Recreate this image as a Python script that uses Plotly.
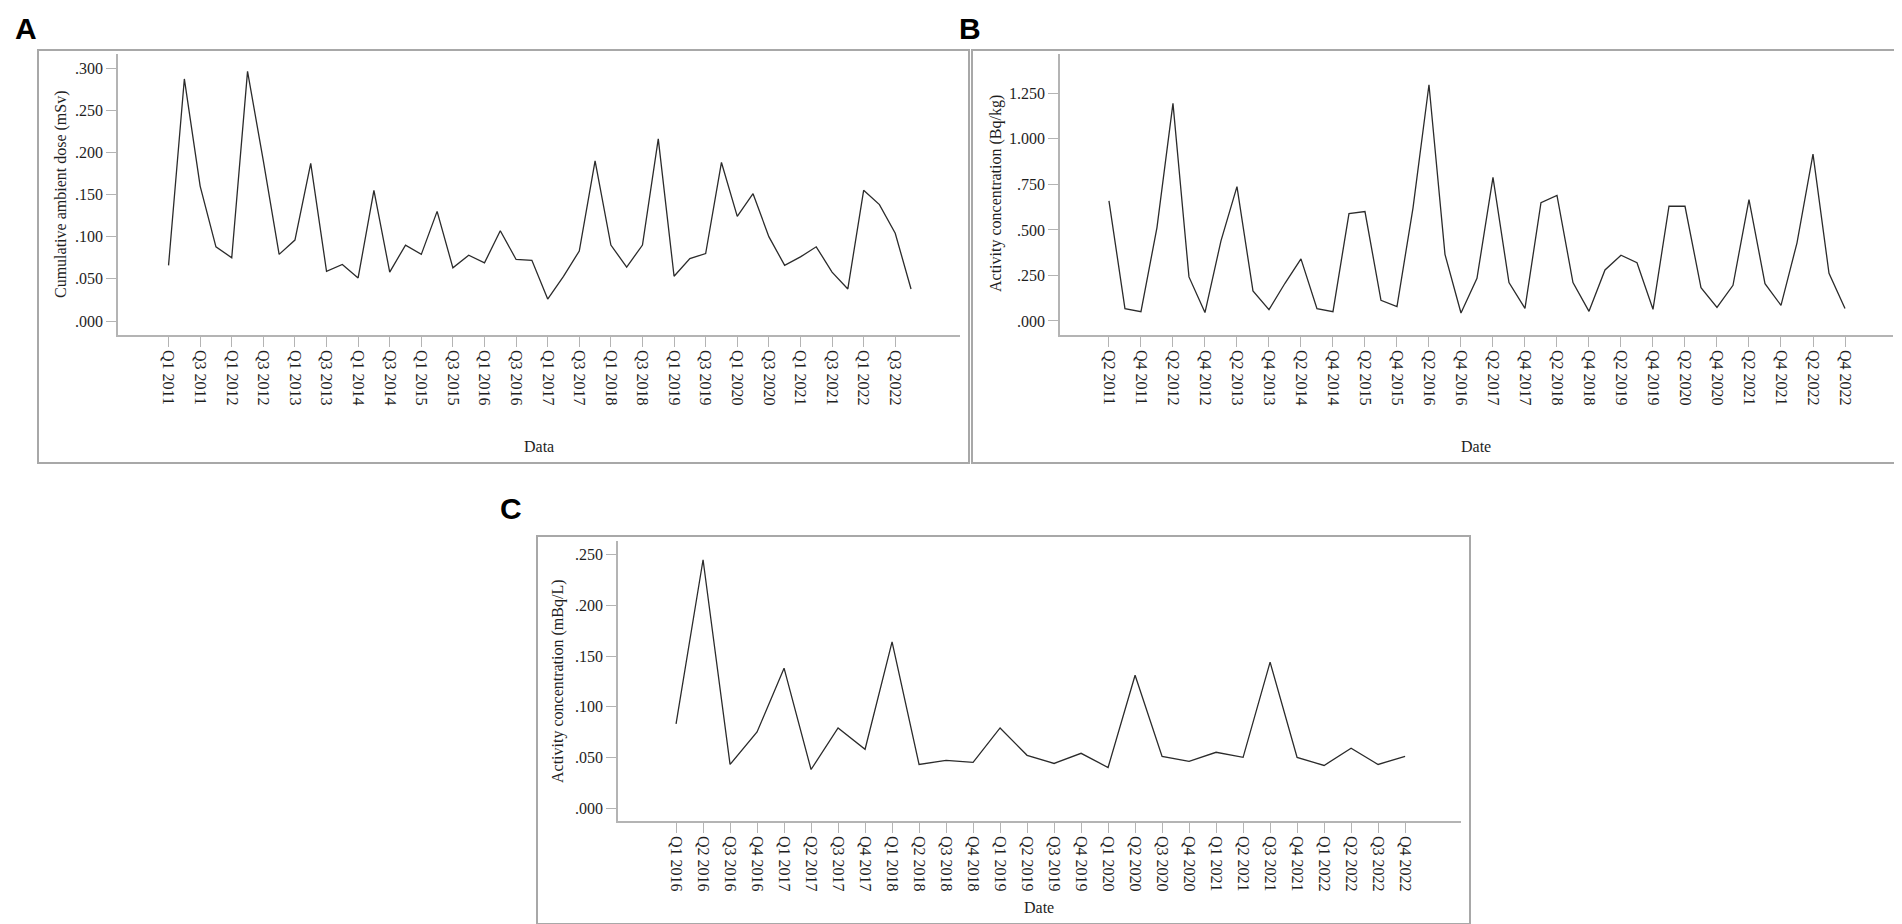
import plotly.graph_objects as go

W, H = 1902, 924

# quarter labels
quarters_a = [f"Q{q} {y}" for y in range(2011, 2023) for q in range(1, 5)]
quarters_b = quarters_a[1:]
quarters_c = [f"Q{q} {y}" for y in range(2016, 2023) for q in range(1, 5)]

# A: cumulative ambient dose (mSv)
dose_a = [0.066, 0.287, 0.160, 0.088, 0.075, 0.296, 0.190, 0.079,
          0.096, 0.187, 0.059, 0.067, 0.051, 0.155, 0.058, 0.090,
          0.079, 0.130, 0.063, 0.078, 0.069, 0.107, 0.073, 0.072,
          0.026, 0.053, 0.083, 0.190, 0.090, 0.064, 0.090, 0.216,
          0.053, 0.074, 0.080, 0.188, 0.124, 0.151, 0.100, 0.066,
          0.076, 0.088, 0.058, 0.038, 0.155, 0.138, 0.104, 0.038]

# B: activity concentration (Bq/kg)
conc_b = [0.660, 0.068, 0.051, 0.513, 1.195, 0.242, 0.046, 0.440,
          0.738, 0.165, 0.062, 0.207, 0.341, 0.068, 0.051, 0.590,
          0.601, 0.113, 0.079, 0.620, 1.297, 0.366, 0.044, 0.234,
          0.788, 0.211, 0.069, 0.650, 0.690, 0.211, 0.053, 0.280,
          0.361, 0.320, 0.064, 0.630, 0.630, 0.183, 0.075, 0.196,
          0.667, 0.205, 0.086, 0.429, 0.916, 0.262, 0.069]

# C: activity concentration (mBq/L)
conc_c = [0.083, 0.245, 0.043, 0.075, 0.138, 0.038, 0.079, 0.058,
          0.164, 0.043, 0.047, 0.045, 0.079, 0.052, 0.044, 0.054,
          0.040, 0.131, 0.051, 0.046, 0.055, 0.050, 0.144, 0.050,
          0.042, 0.059, 0.043, 0.051]

yticks_a = [0, 0.05, 0.10, 0.15, 0.20, 0.25, 0.30]
ylabels_a = [".000", ".050", ".100", ".150", ".200", ".250", ".300"]
yticks_b = [0, 0.25, 0.5, 0.75, 1.0, 1.25]
ylabels_b = [".000", ".250", ".500", ".750", "1.000", "1.250"]
yticks_c = [0, 0.05, 0.10, 0.15, 0.20, 0.25]
ylabels_c = [".000", ".050", ".100", ".150", ".200", ".250"]

FONT = "Liberation Serif"
TXT = "#1e1e1e"
AX_GRAY = "#b4b4b4"
BOX_GRAY = "#a8a8a8"


def px(v):
    return v / W


def py(v):
    return 1 - v / H


fig = go.Figure()

for xs, ys, xa, ya in [(quarters_a, dose_a, "x", "y"),
                       (quarters_b, conc_b, "x2", "y2"),
                       (quarters_c, conc_c, "x3", "y3")]:
    fig.add_trace(go.Scatter(x=xs, y=ys, mode="lines",
                             line=dict(color="#2b2b2b", width=1.3),
                             xaxis=xa, yaxis=ya, hoverinfo="x+y"))

common_x = dict(type="category", showgrid=False, zeroline=False, showline=True,
                linecolor=AX_GRAY, linewidth=1.5, ticks="outside", ticklen=10,
                tickcolor=AX_GRAY, tickwidth=1.2, tickangle=90,
                tickfont=dict(family=FONT, size=16, color=TXT))
common_y = dict(showgrid=False, zeroline=False, showline=True,
                linecolor=AX_GRAY, linewidth=1.5, ticks="outside", ticklen=10,
                tickcolor=AX_GRAY, tickwidth=1.2,
                tickfont=dict(family=FONT, size=16, color=TXT))

fig.update_layout(
    xaxis=dict(common_x, domain=[px(110), px(952)], range=[-3.2, 50.1],
               tickvals=quarters_a[::2], anchor="y"),
    yaxis=dict(common_y, domain=[py(327), py(46)], range=[-0.0166, 0.3166],
               tickvals=yticks_a, ticktext=ylabels_a, anchor="x"),
    xaxis2=dict(common_x, domain=[px(1052), px(1885)], range=[-3.06, 49.0],
                tickvals=quarters_b[::2], anchor="y2"),
    yaxis2=dict(common_y, domain=[py(327), py(46)], range=[-0.077, 1.466],
                tickvals=yticks_b, ticktext=ylabels_b, anchor="x2"),
    xaxis3=dict(common_x, domain=[px(610), px(1453)], range=[-2.15, 29.07],
                tickvals=quarters_c, anchor="y3"),
    yaxis3=dict(common_y, domain=[py(813), py(532.7)], range=[-0.0128, 0.2638],
                tickvals=yticks_c, ticktext=ylabels_c, anchor="x3"),
)

# panel frames
frames = [(30, 42, 961, 455), (964, 42, 1895, 455), (529, 528, 1462, 916)]
for x0, y0, x1, y1 in frames:
    fig.add_shape(type="rect", xref="paper", yref="paper",
                  x0=px(x0), x1=px(x1), y0=py(y1), y1=py(y0),
                  line=dict(color=BOX_GRAY, width=2), fillcolor="rgba(0,0,0,0)")

# panel letters
for letter, x, y in [("A", 18, 21), ("B", 962, 21), ("C", 503, 500)]:
    fig.add_annotation(x=px(x), y=py(y), xref="paper", yref="paper",
                       xanchor="center", yanchor="middle",
                       text=f"<b>{letter}</b>", showarrow=False,
                       font=dict(family="Liberation Sans", size=30, color="black"))

# axis titles
titles = [
    ("Cumulative ambient dose (mSv)", 53, 186, -90),
    ("Activity concentration (Bq/kg)", 988, 186, -90),
    ("Activity concentration (mBq/L)", 550, 673, -90),
    ("Data", 531, 438, 0),
    ("Date", 1468, 438, 0),
    ("Date", 1031, 899, 0),
]
for text, x, y, ang in titles:
    fig.add_annotation(x=px(x), y=py(y), xref="paper", yref="paper",
                       xanchor="center", yanchor="middle",
                       text=text, showarrow=False, textangle=ang,
                       font=dict(family=FONT, size=16, color=TXT))

fig.update_layout(
    width=W, height=H,
    margin=dict(l=0, r=0, t=0, b=0),
    showlegend=False,
    plot_bgcolor="white",
    paper_bgcolor="white",
)

fig.write_html("out.html")
